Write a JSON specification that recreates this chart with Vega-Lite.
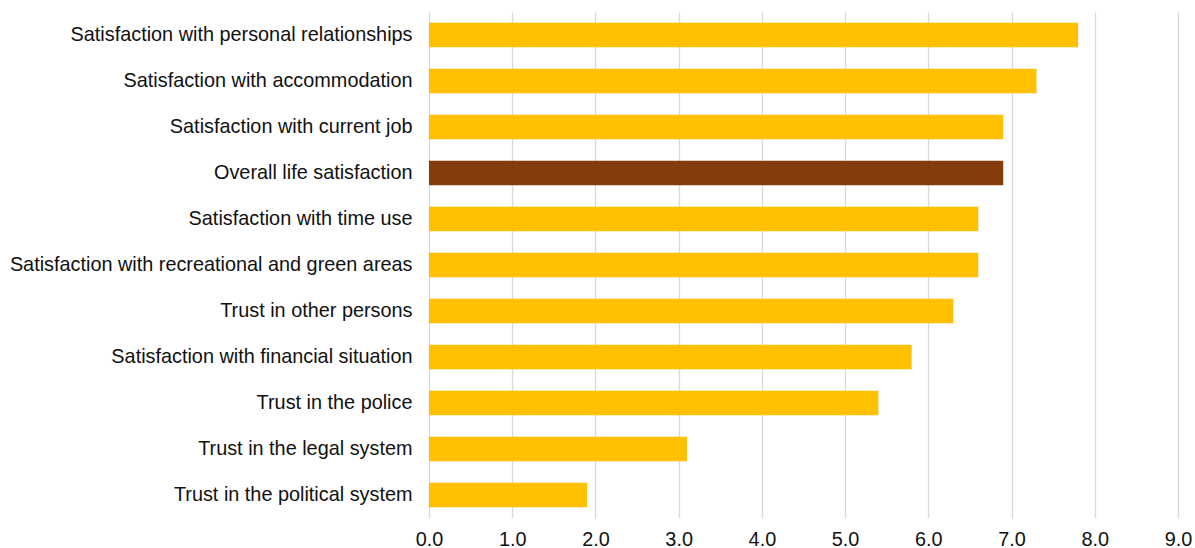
{
  "$schema": "https://vega.github.io/schema/vega-lite/v6.json",
  "width": 749,
  "height": 506,
  "autosize": "none",
  "padding": {"left": 429, "top": 12, "right": 17, "bottom": 30},
  "background": "white",
  "config": {
    "view": {"stroke": null},
    "font": "Liberation Sans"
  },
  "data": {
    "values": [
      {"item": "Satisfaction with personal relationships", "value": 7.8, "kind": "domain"},
      {"item": "Satisfaction with accommodation", "value": 7.3, "kind": "domain"},
      {"item": "Satisfaction with current job", "value": 6.9, "kind": "domain"},
      {"item": "Overall life satisfaction", "value": 6.9, "kind": "overall"},
      {"item": "Satisfaction with time use", "value": 6.6, "kind": "domain"},
      {"item": "Satisfaction with recreational and green areas", "value": 6.6, "kind": "domain"},
      {"item": "Trust in other persons", "value": 6.3, "kind": "domain"},
      {"item": "Satisfaction with financial situation", "value": 5.8, "kind": "domain"},
      {"item": "Trust in the police", "value": 5.4, "kind": "domain"},
      {"item": "Trust in the legal system", "value": 3.1, "kind": "domain"},
      {"item": "Trust in the political system", "value": 1.9, "kind": "domain"}
    ]
  },
  "mark": {"type": "bar"},
  "encoding": {
    "y": {
      "field": "item",
      "type": "nominal",
      "sort": null,
      "scale": {"paddingInner": 0.47, "paddingOuter": 0.235},
      "axis": {
        "title": null,
        "domain": false,
        "ticks": false,
        "grid": false,
        "labelFontSize": 19.85,
        "labelColor": "#111111",
        "labelPadding": 17,
        "labelLimit": 500
      }
    },
    "x": {
      "field": "value",
      "type": "quantitative",
      "scale": {"domain": [0, 9], "nice": false},
      "axis": {
        "title": null,
        "values": [0, 1, 2, 3, 4, 5, 6, 7, 8, 9],
        "format": ".1f",
        "domain": false,
        "ticks": false,
        "grid": true,
        "gridColor": "#d9d9d9",
        "gridWidth": 1.3,
        "labelFontSize": 19.85,
        "labelColor": "#111111",
        "labelPadding": 11,
        "labelFlush": false
      }
    },
    "color": {
      "field": "kind",
      "type": "nominal",
      "scale": {"domain": ["domain", "overall"], "range": ["#FFC000", "#843C0C"]},
      "legend": null
    }
  }
}
